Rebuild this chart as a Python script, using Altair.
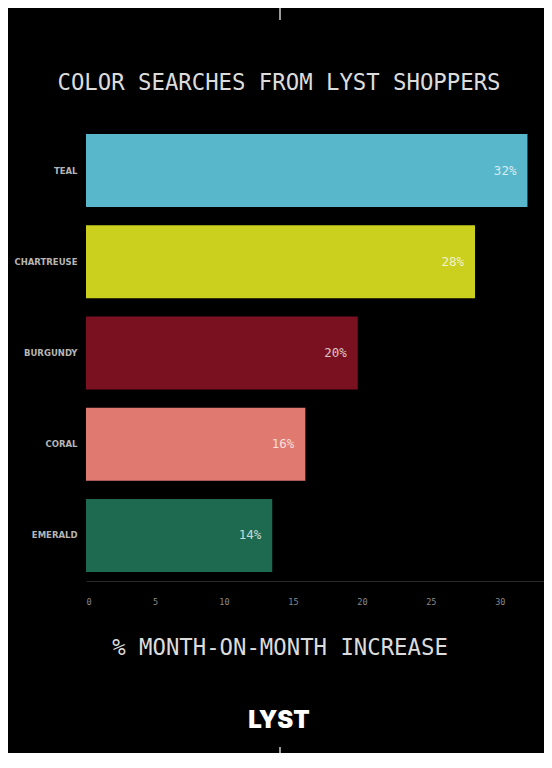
import altair as alt
import pandas as pd

colors_names = ["TEAL", "CHARTREUSE", "BURGUNDY", "CORAL", "EMERALD"]
values = [32.0, 28.2, 19.7, 15.9, 13.5]
value_labels = ["32%", "28%", "20%", "16%", "14%"]
bar_colors = ["#58b7cb", "#cbcf1e", "#7a1120", "#e07a70", "#1d6a50"]
x_ticks = [0, 5, 10, 15, 20, 25, 30]

title_text = "COLOR SEARCHES FROM LYST SHOPPERS"
axis_title_text = "% MONTH-ON-MONTH INCREASE"
logo_text = "LYST"

df = pd.DataFrame({"name": colors_names, "value": values, "label": value_labels})

W, H = 458, 456

xscale = alt.Scale(domain=[0, 33.2], nice=False, zero=True)
yscale = alt.Scale(paddingInner=0.2, paddingOuter=0.1)

bars = alt.Chart(df).mark_bar().encode(
    x=alt.X("value:Q", scale=xscale,
            axis=alt.Axis(values=x_ticks, title=None, grid=False, ticks=False,
                          labelColor="#8a8a8a", labelFont="DejaVu Sans Mono",
                          labelFontSize=8.5, labelPadding=16,
                          domainColor="#2a2a2a", domainWidth=1)),
    y=alt.Y("name:N", sort=colors_names, scale=yscale,
            axis=alt.Axis(title=None, ticks=False, domain=False, labelPadding=9,
                          labelColor="#b5b5b5", labelFont="DejaVu Sans",
                          labelFontWeight="bold", labelFontSize=8.5)),
    color=alt.Color("name:N", scale=alt.Scale(domain=colors_names, range=bar_colors),
                    legend=None),
)

labels = alt.Chart(df).mark_text(
    align="right", baseline="middle", dx=-11, font="DejaVu Sans Mono",
    fontSize=12.5, color="#ffffff", opacity=0.75
).encode(
    x=alt.X("value:Q", scale=xscale),
    y=alt.Y("name:N", sort=colors_names, scale=yscale),
    text="label:N",
)

one = pd.DataFrame({"k": [0]})

title = alt.Chart(one).mark_text(
    text=title_text, font="DejaVu Sans Mono", fontSize=22.3, color="#dcdcdc",
    align="center", baseline="middle"
).encode(x=alt.value(193), y=alt.value(-42))

axis_title = alt.Chart(one).mark_text(
    text=axis_title_text, font="DejaVu Sans Mono", fontSize=22.3, color="#dcdcdc",
    align="center", baseline="middle"
).encode(x=alt.value(194), y=alt.value(523))

logo = alt.Chart(one).mark_text(
    text=logo_text, font="Inter", fontWeight=900, fontSize=24, color="#ffffff",
    align="center", baseline="middle"
).encode(x=alt.value(193), y=alt.value(596))

top_line = alt.Chart(one).mark_rule(color="#cfcfcf", strokeWidth=1.5).encode(
    x=alt.value(194), y=alt.value(-125), y2=alt.value(-105))

bottom_line = alt.Chart(one).mark_rule(color="#cfcfcf", strokeWidth=1.5).encode(
    x=alt.value(194), y=alt.value(622), y2=alt.value(660))

chart = alt.layer(bars, labels, title, axis_title, logo, top_line, bottom_line).properties(
    width=W, height=H,
    padding={"left": 78, "top": 117, "right": 0, "bottom": 172},
    autosize=alt.AutoSizeParams(type="none"),
    background="#000000",
).configure_view(stroke=None)

chart.save("out.html", embed_options={"renderer": "svg", "actions": False})
